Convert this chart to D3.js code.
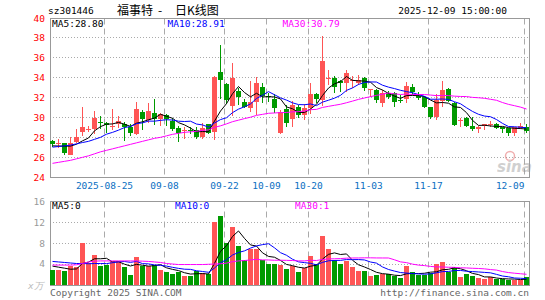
<!DOCTYPE html>
<html>
<head>
<meta charset="utf-8">
<script src="https://cdn.jsdelivr.net/npm/d3@7/dist/d3.min.js"></script>
<style>
    body { margin: 0; background: #fff; }
    svg text { font-family: "DejaVu Sans Mono", monospace; font-size: 9.5px; }
</style>
</head>
<body>
<svg id="chart" width="545" height="300"></svg>
<script>
// --- daily candles, 2025-08-12 .. 2025-12-09 (80 trading days)
const opens = [
    27.67, 27.38, 27.40, 26.27, 27.50, 28.53, 28.80, 28.87, 29.56, 29.40,
    29.10, 29.35, 29.33, 29.00, 28.30, 30.50, 29.77, 30.40, 29.88, 30.27,
    29.63, 28.95, 28.70, 28.75, 28.73, 28.07, 29.30, 28.50, 34.57, 33.30,
    31.10, 32.63, 31.57, 30.90, 31.57, 33.05, 32.10, 31.80, 28.47, 30.80,
    29.80, 31.00, 30.23, 30.90, 32.33, 31.73, 33.90, 33.93, 33.60, 33.47,
    33.65, 33.47, 33.97, 32.78, 32.77, 31.47, 32.40, 32.40, 31.75, 31.80,
    33.00, 32.13, 32.07, 31.00, 30.00, 31.60, 32.83, 31.47, 29.64, 29.90,
    29.13, 28.80, 29.13, 29.28, 29.30, 29.00, 28.90, 28.47, 28.90, 29.07
];
const highs = [
    27.75, 27.87, 27.45, 28.00, 28.83, 31.00, 29.10, 30.67, 30.13, 29.57,
    30.80, 30.15, 29.55, 29.30, 31.55, 30.73, 31.40, 31.83, 30.40, 30.30,
    29.90, 29.10, 29.07, 29.07, 29.07, 29.47, 29.35, 34.10, 37.23, 33.40,
    35.40, 32.95, 31.80, 33.63, 34.05, 33.40, 32.40, 32.30, 30.73, 31.23,
    31.67, 31.23, 31.33, 33.47, 32.47, 38.13, 34.73, 34.10, 33.75, 34.73,
    34.13, 34.20, 34.07, 32.85, 32.85, 32.70, 32.60, 32.55, 32.20, 33.57,
    33.33, 32.50, 32.10, 31.05, 32.30, 33.63, 32.90, 31.50, 29.90, 30.07,
    30.00, 29.10, 29.35, 29.67, 29.40, 29.05, 28.95, 29.05, 29.40, 29.33
];
const lows = [
    27.07, 26.90, 26.27, 26.20, 27.45, 28.13, 28.50, 28.33, 28.87, 28.40,
    28.73, 28.90, 27.67, 28.15, 28.23, 28.77, 29.40, 29.20, 29.15, 29.10,
    28.60, 27.55, 27.87, 28.33, 27.80, 27.80, 28.33, 27.75, 31.80, 31.35,
    30.10, 31.27, 30.90, 30.50, 30.23, 31.40, 31.57, 30.47, 28.33, 29.07,
    29.00, 29.90, 29.73, 30.33, 31.40, 31.13, 33.23, 32.45, 32.57, 32.57,
    32.90, 33.20, 32.67, 32.07, 31.47, 31.07, 31.80, 31.00, 31.45, 31.47,
    32.23, 31.73, 30.90, 29.80, 29.75, 31.00, 31.50, 29.13, 29.00, 29.05,
    28.67, 28.40, 28.73, 29.00, 28.80, 28.47, 28.13, 28.13, 28.85, 28.47
];
const closes = [
    27.33, 27.42, 26.40, 27.40, 28.00, 29.03, 28.85, 29.97, 29.50, 29.23,
    29.15, 29.63, 29.05, 28.40, 30.85, 29.83, 30.65, 29.88, 30.30, 29.87,
    28.83, 28.47, 28.75, 28.70, 28.00, 28.97, 28.40, 34.07, 33.70, 31.70,
    33.93, 32.00, 31.07, 31.57, 33.47, 32.13, 32.05, 30.97, 30.57, 29.47,
    31.23, 30.23, 30.90, 32.33, 31.83, 35.63, 33.95, 33.03, 33.40, 34.40,
    33.70, 33.73, 32.90, 32.83, 31.73, 32.47, 32.00, 31.57, 31.70, 33.13,
    32.50, 31.95, 31.07, 30.00, 31.70, 32.70, 31.60, 29.23, 29.69, 29.13,
    28.83, 29.07, 29.33, 29.32, 28.90, 28.83, 28.47, 29.00, 29.17, 28.67
];
// volume, x万
const volumes = [
    2.76, 2.89, 2.57, 3.66, 3.40, 8.03, 4.18, 5.78, 3.66, 3.85,
    4.50, 4.50, 3.34, 1.93, 5.39, 3.66, 3.66, 3.79, 2.89, 2.38,
    2.12, 2.50, 1.73, 1.60, 2.70, 2.25, 2.12, 12.0, 13.2, 8.03,
    11.2, 7.40, 4.82, 6.94, 6.94, 4.69, 3.92, 4.05, 3.85, 3.08,
    3.53, 2.38, 3.30, 5.59, 4.05, 9.44, 6.94, 4.69, 4.05, 4.62,
    3.34, 2.57, 2.57, 1.60, 1.93, 2.06, 2.06, 1.60, 1.22, 3.66,
    2.38, 1.93, 1.93, 2.25, 4.05, 4.30, 2.38, 3.34, 1.41, 2.12,
    1.73, 1.22, 1.09, 1.41, 1.09, 1.09, 0.96, 0.96, 0.96, 1.41
];

// MA values for the first days, where the window reaches before the view
const ma5Lead  = [27.15, 27.13, 27.12, 27.12];
const ma10Lead = [27.02, 27.08, 27.15, 27.22, 27.35, 27.48, 27.60, 27.80, 28.00];
const ma30Lead = [25.40, 25.50, 25.60, 25.70, 25.85, 26.00, 26.15, 26.35, 26.55, 26.70,
                  26.85, 27.00, 27.15, 27.30, 27.45, 27.60, 27.75, 27.90, 28.00, 28.15,
                  28.30, 28.40, 28.50, 28.55, 28.60, 28.70, 28.75, 29.00, 29.15];
const volMa5Lead  = [3.6, 3.4, 3.2, 3.0];
const volMa10Lead = [4.5, 4.4, 4.3, 4.2, 4.1, 4.1, 4.05, 4.1, 4.1];
const volMa30Lead = [3.80, 3.80, 3.80, 3.80, 3.85, 4.10, 4.40, 4.55, 4.60, 4.60,
                     4.60, 4.60, 4.60, 4.60, 4.60, 4.55, 4.50, 4.40, 4.30, 4.10,
                     4.00, 3.90, 3.90, 3.90, 3.90, 3.90, 3.95, 4.00, 4.05];

const tickDays   = [9, 19, 29, 36, 43, 53, 63, 79];
const tickLabels = ["2025-08-25", "09-08", "09-22", "10-09", "10-20", "11-03", "11-17", "12-09"];
const priceTicks = [40, 38, 36, 34, 32, 30, 28, 26, 24];
const volTicks   = [16, 12, 8, 4];

const RED = "#ff5555", GREEN = "#009a00";
const MA_COLORS = ["#000000", "#0000ff", "#ff00ff"];

function movingAvg(vals, n, lead) {
    return vals.map(function(v, i) {
        return i < n - 1 ? lead[i] : d3.mean(vals.slice(i - n + 1, i + 1));
    });
}

const svg = d3.select("#chart");
const left = 50, right = 530;

const x = d3.scaleBand().domain(d3.range(closes.length)).range([left, right]);
const cx = function(i) { return x(i) + 2.5; };
const yP = d3.scaleLinear().domain([24, 40]).range([177.33, 17.33]);
const yV = d3.scaleLinear().domain([0, 16]).range([284.8, 201.7]);

const isUp = function(i) { return closes[i] >= opens[i]; };

// --- TITLE ROW
svg.append("text").attr("x", 48).attr("y", 14).text("sz301446");
svg.append("text").attr("x", 117).attr("y", 14.5)
    .style("font-family", "'Noto Sans CJK SC'").style("font-size", "12px").text("福事特");
svg.append("text").attr("x", 158).attr("y", 14.5)
    .style("font-family", "'Noto Sans CJK SC'").style("font-size", "12px").text("-");
svg.append("text").attr("x", 175).attr("y", 14.5)
    .style("font-family", "'Noto Sans CJK SC'").style("font-size", "12px").text("日K线图");
svg.append("text").attr("x", 507).attr("y", 14).attr("text-anchor", "end").text("2025-12-09 15:00:00");

// --- PANEL GRID (frame, dotted rows, dashed date columns)
function panel(top, bottom, rows, yScale) {
    const g = svg.append("g");
    g.selectAll(".row").data(rows).enter().append("line")
        .attr("x1", left).attr("x2", right)
        .attr("y1", function(d) { return Math.round(yScale(d)) + 0.5; })
        .attr("y2", function(d) { return Math.round(yScale(d)) + 0.5; })
        .attr("stroke", "#aaa").attr("stroke-dasharray", "1,2");
    g.selectAll(".col").data(tickDays).enter().append("line")
        .attr("x1", function(d) { return x(d) + 0.5; })
        .attr("x2", function(d) { return x(d) + 0.5; })
        .attr("y1", top).attr("y2", bottom)
        .attr("stroke", "#aaa").attr("stroke-dasharray", "6,4");
    g.append("rect")
        .attr("x", left + 0.5).attr("y", top)
        .attr("width", right - left - 1).attr("height", bottom - top)
        .attr("fill", "none").attr("stroke", "#999");
}
panel(18.5, 177.5, [38, 36, 34, 32, 30, 28, 26], yP);
panel(201.5, 285.5, [12, 8, 4], yV);

// --- AXIS LABELS
svg.append("g").selectAll("text").data(priceTicks).enter().append("text")
    .attr("x", 45).attr("y", function(d) { return d === 40 ? 18.7 : yP(d); })
    .attr("dy", "0.35em").attr("text-anchor", "end")
    .attr("fill", "#ff0000").text(function(d) { return d; });

svg.append("g").selectAll("text").data(tickDays).enter().append("text")
    .attr("x", function(d) { return x(d) + 0.5; })
    .attr("y", 189)
    .attr("text-anchor", function(d, i) { return i === tickDays.length - 1 ? "end" : "middle"; })
    .attr("fill", "#0a6fc2")
    .text(function(d, i) { return tickLabels[i]; });

svg.append("g").selectAll("text").data(volTicks).enter().append("text")
    .attr("x", 45).attr("y", function(d) { return yV(d); })
    .attr("dy", "0.35em").attr("text-anchor", "end")
    .attr("fill", "#999").text(function(d) { return d; });
svg.append("text").attr("x", 28).attr("y", 289).attr("fill", "#bbb")
    .style("font-style", "italic").text("x万");

// --- SINA WATERMARK
const wm = svg.append("g").attr("opacity", 0.45);
wm.append("circle").attr("cx", 510).attr("cy", 156).attr("r", 4.5)
    .attr("fill", "none").attr("stroke", "#e05050").attr("stroke-width", 1.5);
wm.append("text").attr("x", 497).attr("y", 172)
    .style("font-family", "'DejaVu Sans'").style("font-size", "15px")
    .style("font-style", "italic").style("font-weight", "bold")
    .attr("fill", "#999").text("sina");

// --- CANDLES
const candles = svg.append("g");
candles.selectAll(".wick").data(closes).enter().append("line")
    .attr("x1", function(d, i) { return cx(i); })
    .attr("x2", function(d, i) { return cx(i); })
    .attr("y1", function(d, i) { return Math.round(yP(highs[i])); })
    .attr("y2", function(d, i) { return Math.round(yP(lows[i])); })
    .attr("stroke", function(d, i) { return isUp(i) ? RED : GREEN; });
candles.selectAll(".body").data(closes).enter().append("rect")
    .attr("x", function(d, i) { return x(i); })
    .attr("width", 5)
    .attr("y", function(d, i) { return Math.round(yP(Math.max(opens[i], d))); })
    .attr("height", function(d, i) {
        return Math.max(1, Math.round(yP(Math.min(opens[i], d))) - Math.round(yP(Math.max(opens[i], d))));
    })
    .attr("fill", function(d, i) { return isUp(i) ? RED : GREEN; });

// --- VOLUME BARS
svg.append("g").selectAll("rect").data(volumes).enter().append("rect")
    .attr("x", function(d, i) { return x(i); })
    .attr("width", 5)
    .attr("y", function(d) { return Math.round(yV(d)); })
    .attr("height", function(d) { return 285 - Math.round(yV(d)); })
    .attr("fill", function(d, i) { return isUp(i) ? RED : GREEN; });

// --- MOVING AVERAGES
function drawLine(vals, yScale, color) {
    const line = d3.line()
        .x(function(d, i) { return cx(i); })
        .y(function(d) { return yScale(d); });
    svg.append("path").datum(vals)
        .attr("d", line).attr("fill", "none")
        .attr("stroke", color).attr("stroke-width", 1);
}
const priceMas = [movingAvg(closes, 5, ma5Lead), movingAvg(closes, 10, ma10Lead), movingAvg(closes, 30, ma30Lead)];
const volMas = [movingAvg(volumes, 5, volMa5Lead), movingAvg(volumes, 10, volMa10Lead), movingAvg(volumes, 30, volMa30Lead)];
priceMas.forEach(function(m, k) { drawLine(m, yP, MA_COLORS[k]); });
volMas.forEach(function(m, k) { drawLine(m, yV, MA_COLORS[k]); });

// --- MA LEGENDS
const priceLegend = ["MA5:28.80", "MA10:28.91", "MA30:30.79"];
const volLegend = ["MA5:0", "MA10:0", "MA30:1"];
svg.append("g").selectAll("text").data(priceLegend).enter().append("text")
    .attr("x", function(d, i) { return [52, 167.5, 282.5][i]; })
    .attr("y", 27)
    .attr("fill", function(d, i) { return MA_COLORS[i]; })
    .text(function(d) { return d; });
svg.append("g").selectAll("text").data(volLegend).enter().append("text")
    .attr("x", function(d, i) { return [52, 175, 295][i]; })
    .attr("y", 209)
    .attr("fill", function(d, i) { return MA_COLORS[i]; })
    .text(function(d) { return d; });

// --- FOOTER
svg.append("text").attr("x", 50).attr("y", 296).attr("fill", "#666").text("Copyright 2025 SINA.COM");
svg.append("text").attr("x", 529).attr("y", 296).attr("text-anchor", "end")
    .attr("fill", "#666").text("http://finance.sina.com.cn");
</script>
</body>
</html>
